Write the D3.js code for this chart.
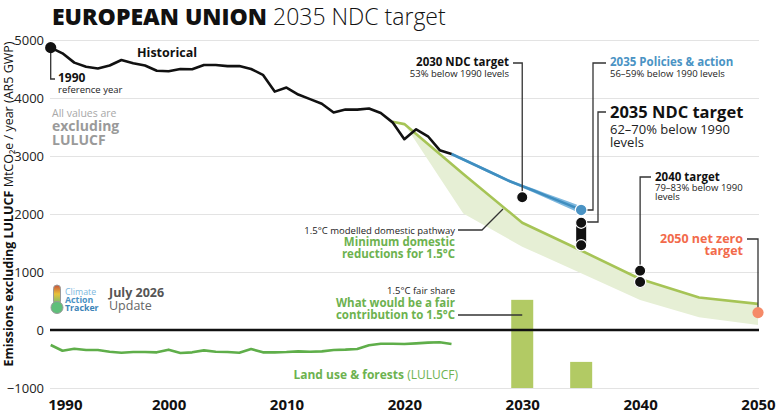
<!DOCTYPE html>
<html>
<head>
<meta charset="utf-8">
<script src="https://cdn.jsdelivr.net/npm/d3@7"></script>
<style>
  body { margin: 0; background: #fff; }
  svg { font-family: "Open Sans", "Noto Sans", sans-serif; }
</style>
</head>
<body>
<svg id="chart" width="777" height="417"></svg>
<script>
// ---------------- DATA ----------------
const histYears = d3.range(1990, 2025);
const historical = [4868, 4770, 4610, 4540, 4510, 4560, 4655, 4600, 4560, 4470,
                    4460, 4500, 4495, 4570, 4570, 4550, 4550, 4500, 4400, 4110,
                    4180, 4060, 3980, 3900, 3750, 3800, 3800, 3820, 3740, 3580,
                    3290, 3460, 3340, 3100, 3035];
const lulucf = [-259, -357, -322, -345, -345, -374, -391, -380, -380, -385,
                -339, -397, -385, -351, -374, -380, -391, -328, -385, -385,
                -380, -368, -374, -368, -345, -339, -328, -264, -236, -236,
                -241, -230, -218, -212, -241];
const policyYears = [2024, 2025, 2026, 2027, 2028, 2029, 2030, 2031, 2032, 2033, 2034, 2035];
const policyHigh  = [3035, 2940, 2845, 2750, 2655, 2560, 2485, 2410, 2335, 2260, 2185, 2110];
const policyLow   = [3035, 2940, 2845, 2750, 2655, 2560, 2475, 2390, 2300, 2210, 2120, 2030];
const pathwayYears = [2019, 2020, 2025, 2030, 2035, 2040, 2045, 2050];
const pathway      = [3590, 3550, 2690, 1850, 1370, 880, 560, 450];
const rangeYears = [2020, 2025, 2030, 2035, 2040, 2045, 2050];
const rangeHigh  = [3550, 2690, 1850, 1370, 880, 560, 450];
const rangeLow   = [3550, 2010, 1437, 980, 517, 219, 86];
const fairYears  = [2030, 2035];
const fairValues = [520, -550];
const ndc2030 = { year: 2030, value: 2288 };
const ndc2035 = { year: 2035, values: [1850, 1460] };
const target2040 = { year: 2040, values: [1022, 828] };
const netZero2050 = { year: 2050, value: 300 };
const ref1990 = { year: 1990, value: 4868 };
const yTicks = [-1000, 0, 1000, 2000, 3000, 4000, 5000];
const xTicks = [1990, 2000, 2010, 2020, 2030, 2040, 2050];

// ---------------- SETUP ----------------
const svg = d3.select("#chart");
const x = d3.scaleLinear().domain([1990, 2050]).range([50.7, 758]);
const y = d3.scaleLinear().domain([-1000, 5000]).range([388, 40]);
const left = 50, right = 759;

const C = {
  black: "#111", blue: "#3f8ec0", blueBand: "#7fb8de", green: "#a6c456",
  shade: "#e6efd5", bar: "#b2ca64", lulucf: "#5fae4a", greenText: "#6db24f",
  orange: "#f58a68", orangeText: "#f26a4b", grid: "#e3e3e3", gray: "#9a9a9a"
};

// gridlines + y axis
const yAxis = d3.axisLeft(y).tickValues(yTicks).tickSize(-(right - left)).tickPadding(6)
  .tickFormat(d3.format("d"));
const gy = svg.append("g").attr("transform", `translate(${left},0)`).call(yAxis);
gy.select(".domain").remove();
gy.selectAll(".tick line").attr("stroke", C.grid).attr("stroke-width", 1.2);
gy.selectAll(".tick text").attr("font-size", 13).attr("fill", "#222")
  .attr("font-family", "'Open Sans', sans-serif");

// x axis labels
const xAxis = d3.axisBottom(x).tickValues(xTicks).tickSize(0).tickFormat(d3.format("d"));
const gx = svg.append("g").attr("transform", `translate(0,${y(-1000)})`).call(xAxis);
gx.select(".domain").remove();
gx.selectAll(".tick text").attr("font-size", 15).attr("font-weight", 700)
  .attr("fill", "#111").attr("dy", 0).attr("y", 22)
  .attr("font-family", "'Open Sans', sans-serif")
  .attr("text-anchor", (d, i) => i === 0 ? "start" : "middle")
  .attr("x", (d, i) => i === 0 ? -3 : 0);

// shaded range for 1.5 pathway
const rangeData = rangeYears.map((yr, i) => ({ yr, hi: rangeHigh[i], lo: rangeLow[i] }));
svg.append("path").datum(rangeData)
  .attr("d", d3.area().x(d => x(d.yr)).y0(d => y(d.lo)).y1(d => y(d.hi)))
  .attr("fill", C.shade);

// fair share bars
const bw = 22;
svg.selectAll(".fair").data(fairYears.map((yr, i) => ({ yr, v: fairValues[i] })))
  .join("rect")
  .attr("x", d => x(d.yr) - bw / 2).attr("width", bw)
  .attr("y", d => y(d.v)).attr("height", d => y(-1000) - y(d.v))
  .attr("fill", C.bar);

// zero line
svg.append("line").attr("x1", left).attr("x2", right).attr("y1", y(0)).attr("y2", y(0))
  .attr("stroke", C.black).attr("stroke-width", 2.6);

// LULUCF line
svg.append("path").datum(histYears.map((yr, i) => [yr, lulucf[i]]))
  .attr("d", d3.line().x(d => x(d[0])).y(d => y(d[1])))
  .attr("fill", "none").attr("stroke", C.lulucf).attr("stroke-width", 2.6)
  .attr("stroke-linejoin", "round");

// 1.5 pathway line
svg.append("path").datum(pathwayYears.map((yr, i) => [yr, pathway[i]]))
  .attr("d", d3.line().x(d => x(d[0])).y(d => y(d[1])))
  .attr("fill", "none").attr("stroke", C.green).attr("stroke-width", 2.6)
  .attr("stroke-linejoin", "round");

// policies band + line
const polData = policyYears.map((yr, i) => ({ yr, hi: policyHigh[i], lo: policyLow[i] }));
svg.append("path").datum(polData)
  .attr("d", d3.area().x(d => x(d.yr)).y0(d => y(d.lo)).y1(d => y(d.hi)))
  .attr("fill", C.blueBand).attr("stroke", C.blueBand).attr("stroke-width", 2.5)
  .attr("stroke-linejoin", "round");
svg.append("path").datum(polData)
  .attr("d", d3.line().x(d => x(d.yr)).y(d => y((d.hi + d.lo) / 2)))
  .attr("fill", "none").attr("stroke", C.blue).attr("stroke-width", 2.6);

// historical line
svg.append("path").datum(histYears.map((yr, i) => [yr, historical[i]]))
  .attr("d", d3.line().x(d => x(d[0])).y(d => y(d[1])))
  .attr("fill", "none").attr("stroke", C.black).attr("stroke-width", 2.6)
  .attr("stroke-linejoin", "round");

// ---------------- LEADER LINES ----------------
const lead = (pts, color = "#333", w = 1.3) =>
  svg.append("path").attr("d", d3.line()(pts)).attr("fill", "none")
    .attr("stroke", color).attr("stroke-width", w);

lead([[x(1990), y(ref1990.value)], [x(1990), 79], [55, 79]]);
lead([[513, 63], [x(2030), 63], [x(2030), y(ndc2030.value)]]);
lead([[606, 63], [593, 63], [593, 210], [x(2035), 210]]);
lead([[606, 112], [598, 112], [598, 222], [x(2035), 222]]);
lead([[651, 177], [x(2040), 177], [x(2040), y(target2040.values[0])]]);
lead([[747, 239], [x(2050), 239], [x(2050), y(netZero2050.value)]]);
lead([[458, 230], [482, 230], [503, 209]]);
lead([[458, 315], [x(2030), 315]]);

// ---------------- POINTS ----------------
const dot = (cx, cy, fill, r = 5.6, stroke = "#fff") =>
  svg.append("circle").attr("cx", cx).attr("cy", cy).attr("r", r)
    .attr("fill", fill).attr("stroke", stroke).attr("stroke-width", 1.2);

dot(x(ref1990.year), y(ref1990.value), C.black, 5.6, "none");
dot(x(ndc2030.year), y(ndc2030.value), C.black);
svg.append("line").attr("x1", x(2035)).attr("x2", x(2035))
  .attr("y1", y(ndc2035.values[0])).attr("y2", y(ndc2035.values[1]))
  .attr("stroke", C.black).attr("stroke-width", 10);
ndc2035.values.forEach(v => dot(x(ndc2035.year), y(v), C.black));
dot(x(2035), y((policyHigh[11] + policyLow[11]) / 2), "#4a93c4", 5.8);
target2040.values.forEach(v => dot(x(target2040.year), y(v), C.black));
dot(x(netZero2050.year), y(netZero2050.value), C.orange, 5.6, "none");

// ---------------- TEXT ----------------
const txt = (tx, ty, s, opts = {}) => {
  const t = svg.append("text").attr("x", tx).attr("y", ty).text(s)
    .attr("font-size", opts.size || 10).attr("fill", opts.fill || "#222")
    .attr("font-weight", opts.weight || 400)
    .attr("text-anchor", opts.anchor || "start");
  return t;
};

// title
const title = svg.append("text").attr("x", 52).attr("y", 25).attr("font-size", 23).attr("fill", "#111");
title.append("tspan").attr("font-weight", 800).text("EUROPEAN UNION");
title.append("tspan").attr("font-weight", 300).text(" 2035 NDC target");

// y axis title
const yt = svg.append("text").attr("transform", "translate(13,204) rotate(-90)")
  .attr("text-anchor", "middle").attr("font-size", 12.5).attr("fill", "#111");
yt.append("tspan").attr("font-weight", 700).text("Emissions excluding LULUCF");
yt.append("tspan").attr("font-weight", 400).text(" MtCO₂e / year (AR5 GWP)");

txt(137, 57, "Historical", { size: 12.5, weight: 700, fill: "#111" });
txt(58, 82, "1990", { size: 12, weight: 700, fill: "#111" });
txt(58, 93, "reference year", { size: 9.5 });
txt(52, 117, "All values are", { size: 10.5, fill: "#a8a8a8" });
txt(52, 131, "excluding", { size: 14, weight: 700, fill: C.gray });
txt(52, 145, "LULUCF", { size: 14, weight: 700, fill: C.gray });

txt(509, 66, "2030 NDC target", { size: 11.5, weight: 700, anchor: "end", fill: "#111" });
txt(509, 77, "53% below 1990 levels", { size: 9.5, anchor: "end" });

txt(610, 66, "2035 Policies & action", { size: 11.5, weight: 700, fill: "#4a93c4" });
txt(610, 77, "56–59% below 1990 levels", { size: 9.5 });

txt(610, 118, "2035 NDC target", { size: 16.5, weight: 700, fill: "#111" });
txt(610, 133.5, "62–70% below 1990", { size: 13 });
txt(610, 147, "levels", { size: 13 });

txt(655, 181, "2040 target", { size: 11.5, weight: 700, fill: "#111" });
txt(655, 191, "79–83% below 1990", { size: 9.5 });
txt(655, 200, "levels", { size: 9.5 });

txt(743, 243, "2050 net zero", { size: 12.5, weight: 700, anchor: "end", fill: C.orangeText });
txt(743, 255, "target", { size: 12.5, weight: 700, anchor: "end", fill: C.orangeText });

txt(455, 234, "1.5°C modelled domestic pathway", { size: 9.5, anchor: "end" });
txt(455, 246, "Minimum domestic", { size: 11.5, weight: 700, anchor: "end", fill: C.greenText });
txt(455, 258, "reductions for 1.5°C", { size: 11.5, weight: 700, anchor: "end", fill: C.greenText });

txt(455, 293.5, "1.5°C fair share", { size: 9.5, anchor: "end" });
txt(455, 306.5, "What would be a fair", { size: 11.5, weight: 700, anchor: "end", fill: C.greenText });
txt(455, 318.5, "contribution to 1.5°C", { size: 11.5, weight: 700, anchor: "end", fill: C.greenText });

const lu = svg.append("text").attr("x", 458).attr("y", 378.5).attr("text-anchor", "end")
  .attr("font-size", 12).attr("fill", C.greenText);
lu.append("tspan").attr("font-weight", 700).text("Land use & forests");
lu.append("tspan").attr("font-weight", 400).text(" (LULUCF)");

// logo
const defs = svg.append("defs");
const grad = defs.append("linearGradient").attr("id", "thermo").attr("x1", 0).attr("x2", 0).attr("y1", 0).attr("y2", 1);
grad.append("stop").attr("offset", "0%").attr("stop-color", "#c9503c");
grad.append("stop").attr("offset", "45%").attr("stop-color", "#e8c23a");
grad.append("stop").attr("offset", "100%").attr("stop-color", "#5fbf7a");
svg.append("rect").attr("x", 53.5).attr("y", 285).attr("width", 7).attr("height", 20).attr("rx", 3.5)
  .attr("fill", "url(#thermo)").attr("stroke", "#999").attr("stroke-width", 1);
svg.append("circle").attr("cx", 57).attr("cy", 307.5).attr("r", 6)
  .attr("fill", "#5fbf7a").attr("stroke", "#999").attr("stroke-width", 1);
txt(65, 294.5, "Climate", { size: 8.8, fill: "#7cb8de" });
txt(65, 302.5, "Action", { size: 8.8, weight: 700, fill: "#4a93c4" });
txt(65, 310.5, "Tracker", { size: 8.8, weight: 700, fill: "#3c84b8" });
txt(109, 296.5, "July 2026", { size: 12.5, weight: 700, fill: "#555" });
txt(109, 309.5, "Update", { size: 12.5, fill: "#666" });
</script>
</body>
</html>
